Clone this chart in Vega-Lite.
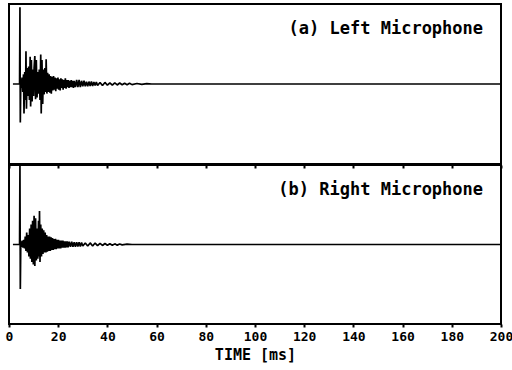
{
  "$schema": "https://vega.github.io/schema/vega-lite/v6.json",
  "padding": {"left": 4, "top": 3, "right": 0, "bottom": 4},
  "background": "white",
  "spacing": -2,
  "config": {
    "view": {"stroke": "black", "strokeWidth": 2},
    "axis": {"domain": false, "grid": false, "tickColor": "black", "tickWidth": 2, "tickSize": 3,
             "labelFont": "DejaVu Sans Mono", "labelFontWeight": "bold", "labelFontSize": 13, "labelColor": "black",
             "titleFont": "DejaVu Sans Mono", "titleFontWeight": "bold", "titleFontSize": 15, "titleColor": "black"}
  },
  "datasets": {
    "a": [
      {"t": 1.6, "v": 0}, {"t": 4.3, "v": 0}, {"t": 4.45, "v": 0.96}, {"t": 4.6, "v": -0.48}, {"t": 4.8, "v": 0.06},
      {"t": 5.0, "v": -0.05}, {"t": 5.3, "v": 0.08}, {"t": 5.6, "v": -0.1}, {"t": 5.9, "v": 0.12}, {"t": 6.1, "v": -0.37},
      {"t": 6.4, "v": 0.15}, {"t": 6.7, "v": -0.2}, {"t": 6.9, "v": 0.41}, {"t": 7.1, "v": -0.31}, {"t": 7.4, "v": 0.2},
      {"t": 7.7, "v": -0.15}, {"t": 8.0, "v": 0.22}, {"t": 8.3, "v": -0.2}, {"t": 8.6, "v": 0.34}, {"t": 8.8, "v": -0.28},
      {"t": 9.1, "v": 0.3}, {"t": 9.4, "v": -0.22}, {"t": 9.7, "v": 0.18}, {"t": 10.0, "v": -0.15}, {"t": 10.2, "v": 0.2},
      {"t": 10.5, "v": 0.35}, {"t": 10.8, "v": -0.19}, {"t": 11.1, "v": 0.3}, {"t": 11.4, "v": -0.17}, {"t": 11.7, "v": 0.15},
      {"t": 12.0, "v": -0.12}, {"t": 12.3, "v": 0.18}, {"t": 12.6, "v": -0.2}, {"t": 12.9, "v": 0.37}, {"t": 13.1, "v": -0.37},
      {"t": 13.4, "v": 0.3}, {"t": 13.7, "v": -0.25}, {"t": 14.0, "v": 0.18}, {"t": 14.3, "v": -0.13}, {"t": 14.6, "v": 0.2},
      {"t": 14.9, "v": -0.1}, {"t": 15.1, "v": 0.31}, {"t": 15.4, "v": -0.12}, {"t": 15.7, "v": 0.14}, {"t": 16.0, "v": -0.1},
      {"t": 16.3, "v": 0.12}, {"t": 16.6, "v": -0.11}, {"t": 16.9, "v": 0.1}, {"t": 17.2, "v": -0.12}, {"t": 17.5, "v": 0.09},
      {"t": 17.8, "v": -0.08}, {"t": 18.1, "v": 0.1}, {"t": 18.4, "v": -0.07}, {"t": 18.7, "v": 0.08}, {"t": 19.0, "v": -0.09},
      {"t": 19.3, "v": 0.07}, {"t": 19.6, "v": -0.06}, {"t": 19.9, "v": 0.08}, {"t": 20.2, "v": -0.07}, {"t": 20.5, "v": 0.06},
      {"t": 20.8, "v": -0.08}, {"t": 21.1, "v": 0.07}, {"t": 21.4, "v": -0.05}, {"t": 21.7, "v": 0.06}, {"t": 22.0, "v": -0.07},
      {"t": 22.3, "v": 0.05}, {"t": 22.6, "v": -0.05}, {"t": 22.9, "v": 0.07}, {"t": 23.2, "v": -0.06}, {"t": 23.5, "v": 0.05},
      {"t": 23.8, "v": -0.04}, {"t": 24.1, "v": 0.05}, {"t": 24.4, "v": -0.05}, {"t": 24.7, "v": 0.04}, {"t": 25.0, "v": -0.04},
      {"t": 25.3, "v": 0.05}, {"t": 25.6, "v": -0.04}, {"t": 25.9, "v": 0.04}, {"t": 26.2, "v": -0.05}, {"t": 26.5, "v": 0.04},
      {"t": 27.0, "v": -0.04}, {"t": 27.5, "v": 0.05}, {"t": 28.0, "v": -0.04}, {"t": 28.5, "v": 0.05}, {"t": 29.0, "v": -0.04},
      {"t": 29.5, "v": 0.04}, {"t": 30.0, "v": -0.03}, {"t": 30.5, "v": 0.04}, {"t": 31.0, "v": -0.03}, {"t": 31.5, "v": 0.03},
      {"t": 32.0, "v": -0.03}, {"t": 32.5, "v": 0.03}, {"t": 33.0, "v": -0.025}, {"t": 33.5, "v": 0.03}, {"t": 34.0, "v": -0.025},
      {"t": 34.5, "v": 0.025}, {"t": 35.0, "v": -0.02}, {"t": 35.5, "v": 0.025}, {"t": 36.0, "v": -0.02}, {"t": 37.0, "v": 0.02},
      {"t": 38.0, "v": -0.02}, {"t": 39.0, "v": 0.02}, {"t": 40.0, "v": -0.015}, {"t": 41.0, "v": 0.015}, {"t": 42.0, "v": -0.015},
      {"t": 43.0, "v": 0.015}, {"t": 44.0, "v": -0.012}, {"t": 45.0, "v": 0.012}, {"t": 46.0, "v": -0.01}, {"t": 47.0, "v": 0.01},
      {"t": 48.0, "v": -0.01}, {"t": 49.0, "v": 0.01}, {"t": 50.0, "v": -0.008}, {"t": 52.0, "v": 0.006}, {"t": 54.0, "v": -0.005},
      {"t": 56.0, "v": 0.004}, {"t": 58.0, "v": 0}, {"t": 200, "v": 0}
    ],
    "b": [
      {"t": 1.6, "v": 0}, {"t": 4.3, "v": 0}, {"t": 4.45, "v": 0.99}, {"t": 4.6, "v": -0.56}, {"t": 4.8, "v": 0.04},
      {"t": 5.1, "v": -0.03}, {"t": 5.4, "v": 0.05}, {"t": 5.7, "v": -0.04}, {"t": 6.0, "v": 0.06}, {"t": 6.3, "v": -0.05},
      {"t": 6.6, "v": 0.1}, {"t": 6.9, "v": -0.08}, {"t": 7.2, "v": 0.15}, {"t": 7.5, "v": -0.1}, {"t": 7.8, "v": 0.12},
      {"t": 8.1, "v": -0.15}, {"t": 8.4, "v": 0.2}, {"t": 8.7, "v": -0.18}, {"t": 9.0, "v": 0.25}, {"t": 9.3, "v": -0.22},
      {"t": 9.6, "v": 0.3}, {"t": 9.9, "v": -0.25}, {"t": 10.2, "v": 0.36}, {"t": 10.5, "v": -0.27}, {"t": 10.8, "v": 0.33},
      {"t": 11.1, "v": -0.2}, {"t": 11.4, "v": 0.2}, {"t": 11.7, "v": -0.18}, {"t": 12.0, "v": 0.3}, {"t": 12.2, "v": -0.15},
      {"t": 12.4, "v": 0.42}, {"t": 12.6, "v": -0.22}, {"t": 12.9, "v": 0.25}, {"t": 13.2, "v": -0.15}, {"t": 13.5, "v": 0.2},
      {"t": 13.8, "v": -0.12}, {"t": 14.1, "v": 0.18}, {"t": 14.4, "v": -0.1}, {"t": 14.7, "v": 0.15}, {"t": 15.0, "v": -0.1},
      {"t": 15.3, "v": 0.12}, {"t": 15.6, "v": -0.09}, {"t": 15.9, "v": 0.1}, {"t": 16.2, "v": -0.08}, {"t": 16.5, "v": 0.1},
      {"t": 16.8, "v": -0.08}, {"t": 17.1, "v": 0.09}, {"t": 17.4, "v": -0.07}, {"t": 17.7, "v": 0.08}, {"t": 18.0, "v": -0.07},
      {"t": 18.3, "v": 0.07}, {"t": 18.6, "v": -0.06}, {"t": 18.9, "v": 0.07}, {"t": 19.2, "v": -0.06}, {"t": 19.5, "v": 0.06},
      {"t": 19.8, "v": -0.05}, {"t": 20.1, "v": 0.06}, {"t": 20.4, "v": -0.05}, {"t": 20.7, "v": 0.05}, {"t": 21.0, "v": -0.05},
      {"t": 21.3, "v": 0.05}, {"t": 21.6, "v": -0.04}, {"t": 21.9, "v": 0.05}, {"t": 22.2, "v": -0.04}, {"t": 22.5, "v": 0.04},
      {"t": 22.8, "v": -0.04}, {"t": 23.1, "v": 0.04}, {"t": 23.4, "v": -0.035}, {"t": 23.7, "v": 0.04}, {"t": 24.0, "v": -0.035},
      {"t": 24.5, "v": 0.035}, {"t": 25.0, "v": -0.03}, {"t": 25.5, "v": 0.035}, {"t": 26.0, "v": -0.03}, {"t": 26.5, "v": 0.03},
      {"t": 27.0, "v": -0.03}, {"t": 27.5, "v": 0.03}, {"t": 28.0, "v": -0.025}, {"t": 28.5, "v": 0.03}, {"t": 29.0, "v": -0.025},
      {"t": 29.5, "v": 0.025}, {"t": 30.0, "v": -0.02}, {"t": 31.0, "v": 0.02}, {"t": 32.0, "v": -0.02}, {"t": 33.0, "v": 0.02},
      {"t": 34.0, "v": -0.018}, {"t": 35.0, "v": 0.018}, {"t": 36.0, "v": -0.015}, {"t": 37.0, "v": 0.015}, {"t": 38.0, "v": -0.012},
      {"t": 39.0, "v": 0.012}, {"t": 40.0, "v": -0.01}, {"t": 41.0, "v": 0.01}, {"t": 42.0, "v": -0.01}, {"t": 43.0, "v": 0.008},
      {"t": 44.0, "v": -0.008}, {"t": 45.0, "v": 0.006}, {"t": 46.0, "v": -0.005}, {"t": 48.0, "v": 0.004}, {"t": 50.0, "v": 0},
      {"t": 200, "v": 0}
    ]
  },
  "vconcat": [
    {
      "width": 492,
      "height": 160,
      "layer": [
        {
          "data": {"name": "a"},
          "mark": {"type": "line", "color": "black", "strokeWidth": 1.7, "strokeJoin": "bevel", "strokeCap": "butt"},
          "encoding": {
            "x": {"field": "t", "type": "quantitative", "scale": {"domain": [0, 200], "nice": false}, "axis": null},
            "y": {"field": "v", "type": "quantitative", "scale": {"domain": [-1, 1], "nice": false}, "axis": null}
          }
        },
        {
          "data": {"values": [{"label": "(a) Left Microphone"}]},
          "mark": {"type": "text", "align": "right", "baseline": "middle", "font": "DejaVu Sans Mono", "fontWeight": "bold", "fontSize": 17, "color": "black"},
          "encoding": {
            "x": {"datum": 192.7, "type": "quantitative"},
            "y": {"datum": 0.69, "type": "quantitative"},
            "text": {"field": "label"}
          }
        }
      ]
    },
    {
      "width": 492,
      "height": 159,
      "resolve": {"axis": {"x": "independent"}},
      "layer": [
        {
          "data": {"name": "b"},
          "mark": {"type": "line", "color": "black", "strokeWidth": 1.7, "strokeJoin": "bevel", "strokeCap": "butt"},
          "encoding": {
            "x": {"field": "t", "type": "quantitative", "scale": {"domain": [0, 200], "nice": false},
                  "axis": {"title": "TIME [ms]", "labelPadding": 3, "titlePadding": 4, "labelFlush": false, "labelOverlap": false,
                           "values": [0, 20, 40, 60, 80, 100, 120, 140, 160, 180, 200]}},
            "y": {"field": "v", "type": "quantitative", "scale": {"domain": [-1, 1], "nice": false}, "axis": null}
          }
        },
        {
          "data": {"values": [{"label": "(b) Right Microphone"}]},
          "mark": {"type": "text", "align": "right", "baseline": "middle", "font": "DejaVu Sans Mono", "fontWeight": "bold", "fontSize": 17, "color": "black"},
          "encoding": {
            "x": {"datum": 192.7, "type": "quantitative",
                  "axis": {"orient": "top", "labels": false, "title": null, "tickSize": -3, "labelPadding": 0, "minExtent": 0, "maxExtent": 0,
                           "values": [0, 20, 40, 60, 80, 100, 120, 140, 160, 180, 200]}},
            "y": {"datum": 0.69, "type": "quantitative"},
            "text": {"field": "label"}
          }
        }
      ]
    }
  ]
}
